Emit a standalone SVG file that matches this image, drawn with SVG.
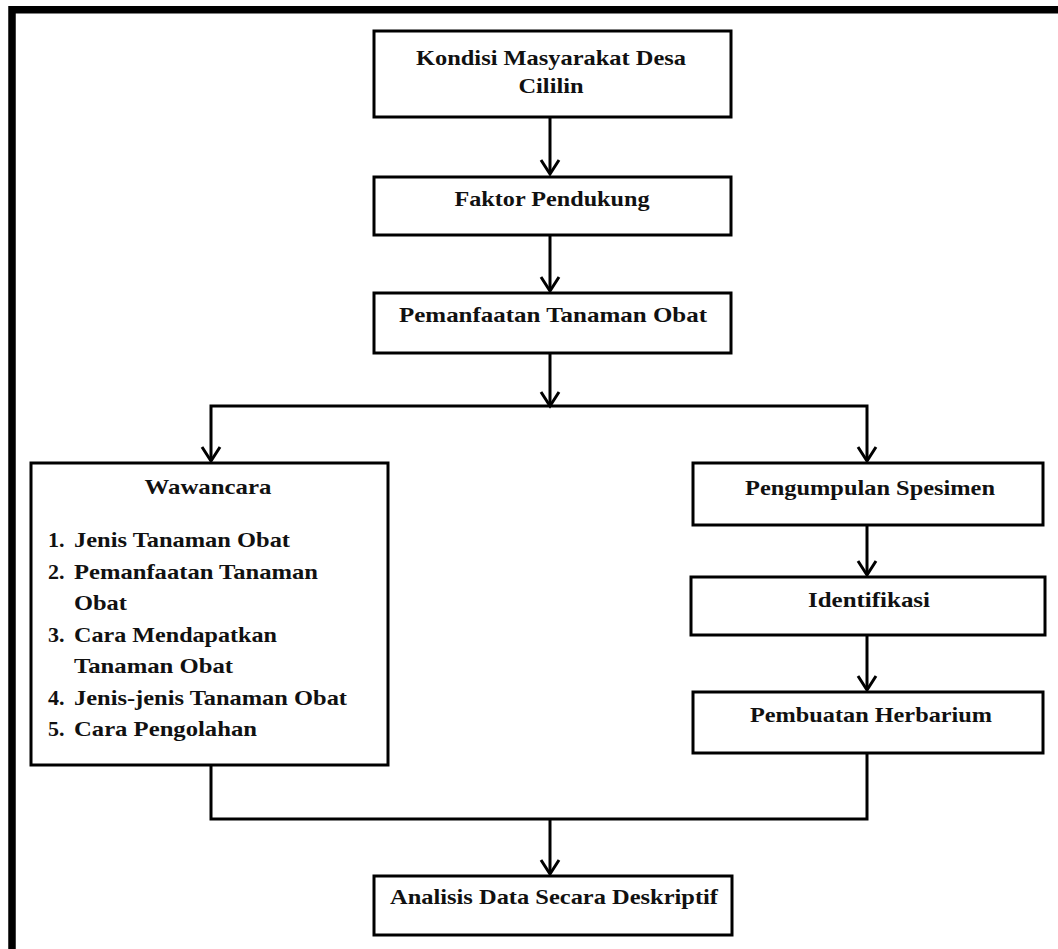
<svg xmlns="http://www.w3.org/2000/svg" width="1058" height="949" viewBox="0 0 1058 949">
<style>
.box{fill:#fff;stroke:#000;stroke-width:3}
.t{font-family:"Liberation Serif","Times New Roman",serif;font-weight:bold;font-size:22px;fill:#111}
.c{text-anchor:middle}
.ln{fill:none;stroke:#000;stroke-width:3}
.ah{fill:none;stroke:#000;stroke-width:3;stroke-linejoin:miter}
</style>
<rect width="1058" height="949" fill="#fff"/>
<path d="M12,949 V9.7 H1058" fill="none" stroke="#000" stroke-width="7.5" stroke-linecap="square"/>

<g id="connectors">
  <path class="ln" d="M550,117 V173"/>
  <path class="ah" d="M541,160 L550,174 L559,160"/>
  <path class="ln" d="M550,235 V290"/>
  <path class="ah" d="M541,277 L550,291 L559,277"/>
  <path class="ln" d="M550,353 V406"/>
  <path class="ah" d="M541,392 L550,406 L559,392"/>
  <path class="ln" d="M211,461 V406 H867 V461"/>
  <path class="ah" d="M202,447 L211,461 L220,447"/>
  <path class="ah" d="M858,447 L867,461 L876,447"/>
  <path class="ln" d="M867,525 V574"/>
  <path class="ah" d="M858,561 L867,575 L876,561"/>
  <path class="ln" d="M867,635 V689"/>
  <path class="ah" d="M858,676 L867,690 L876,676"/>
  <path class="ln" d="M211,766 V819 H867 V753"/>
  <path class="ln" d="M550,819 V873"/>
  <path class="ah" d="M541,860 L550,874 L559,860"/>
</g>

<g id="kondisi">
  <rect class="box" x="374" y="31" width="357" height="86"/>
  <text class="t c" x="551" y="65" textLength="270" lengthAdjust="spacingAndGlyphs">Kondisi Masyarakat Desa</text>
  <text class="t c" x="551" y="93" textLength="65" lengthAdjust="spacingAndGlyphs">Cililin</text>
</g>
<g id="faktor">
  <rect class="box" x="374" y="177" width="357" height="58"/>
  <text class="t c" x="552" y="206" textLength="195" lengthAdjust="spacingAndGlyphs">Faktor Pendukung</text>
</g>
<g id="pemanfaatan">
  <rect class="box" x="374" y="293" width="357" height="60"/>
  <text class="t c" x="553" y="322" textLength="308" lengthAdjust="spacingAndGlyphs">Pemanfaatan Tanaman Obat</text>
</g>
<g id="wawancara">
  <rect class="box" x="31" y="463" width="357" height="302"/>
  <text class="t c" x="208" y="494" textLength="127" lengthAdjust="spacingAndGlyphs">Wawancara</text>
  <text class="t" x="48" y="547">1.</text>
  <text class="t" x="74" y="547" textLength="216" lengthAdjust="spacingAndGlyphs">Jenis Tanaman Obat</text>
  <text class="t" x="48" y="579">2.</text>
  <text class="t" x="74" y="579" textLength="244" lengthAdjust="spacingAndGlyphs">Pemanfaatan Tanaman</text>
  <text class="t" x="74" y="610" textLength="53" lengthAdjust="spacingAndGlyphs">Obat</text>
  <text class="t" x="48" y="642">3.</text>
  <text class="t" x="74" y="642" textLength="203" lengthAdjust="spacingAndGlyphs">Cara Mendapatkan</text>
  <text class="t" x="74" y="673" textLength="159" lengthAdjust="spacingAndGlyphs">Tanaman Obat</text>
  <text class="t" x="48" y="705">4.</text>
  <text class="t" x="74" y="705" textLength="273" lengthAdjust="spacingAndGlyphs">Jenis-jenis Tanaman Obat</text>
  <text class="t" x="48" y="736">5.</text>
  <text class="t" x="74" y="736" textLength="183" lengthAdjust="spacingAndGlyphs">Cara Pengolahan</text>
</g>
<g id="pengumpulan">
  <rect class="box" x="693" y="463" width="350" height="62"/>
  <text class="t c" x="870" y="495" textLength="250" lengthAdjust="spacingAndGlyphs">Pengumpulan Spesimen</text>
</g>
<g id="identifikasi">
  <rect class="box" x="691" y="577" width="354" height="58"/>
  <text class="t c" x="869" y="607" textLength="122" lengthAdjust="spacingAndGlyphs">Identifikasi</text>
</g>
<g id="herbarium">
  <rect class="box" x="693" y="692" width="350" height="61"/>
  <text class="t c" x="871" y="722" textLength="242" lengthAdjust="spacingAndGlyphs">Pembuatan Herbarium</text>
</g>
<g id="analisis">
  <rect class="box" x="374" y="876" width="358" height="59"/>
  <text class="t c" x="554" y="904" textLength="328" lengthAdjust="spacingAndGlyphs">Analisis Data Secara Deskriptif</text>
</g>
</svg>
